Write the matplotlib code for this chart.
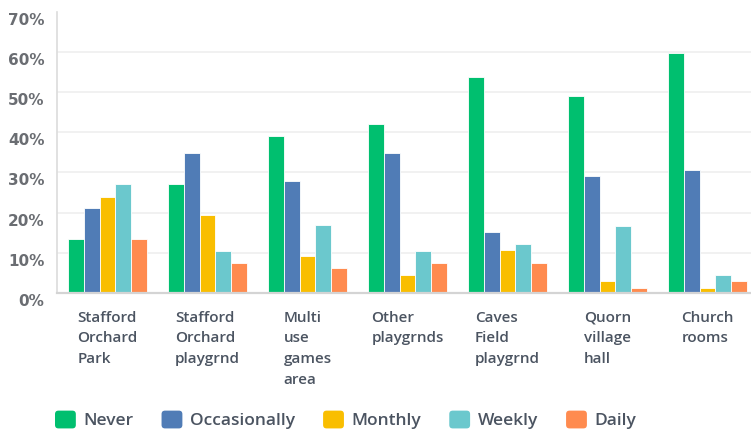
import matplotlib
matplotlib.use("Agg")
import matplotlib.pyplot as plt
import numpy as np
from matplotlib.patches import FancyBboxPatch
from matplotlib.legend_handler import HandlerPatch
from matplotlib.transforms import ScaledTranslation

# Survey: how often do you use each facility?
categories = [
    "Stafford\nOrchard\nPark",
    "Stafford\nOrchard\nplaygrnd",
    "Multi\nuse\ngames\narea",
    "Other\nplaygrnds",
    "Caves\nField\nplaygrnd",
    "Quorn\nvillage\nhall",
    "Church\nrooms",
]
series_names = ["Never", "Occasionally", "Monthly", "Weekly", "Daily"]
never = [13.4, 27.1, 39.0, 42.1, 53.7, 49.1, 59.7]
occasionally = [21.1, 34.8, 27.8, 34.8, 15.2, 29.2, 30.5]
monthly = [23.9, 19.4, 9.2, 4.3, 10.6, 2.9, 1.2]
weekly = [27.1, 10.3, 16.9, 10.3, 12.1, 16.6, 4.3]
daily = [13.4, 7.5, 6.1, 7.5, 7.5, 1.2, 2.9]
y_ticks = [0, 10, 20, 30, 40, 50, 60, 70]
y_tick_labels = ["0%", "10%", "20%", "30%", "40%", "50%", "60%", "70%"]

values = [never, occasionally, monthly, weekly, daily]
colors = ["#00BF6F", "#507CB6", "#F9BE00", "#6BC8CD", "#FF8B4F"]

label_color = "#4b5461"
tick_color = "#6a6d72"

fig = plt.figure(figsize=(7.51, 4.32), dpi=100)
ax = fig.add_axes([57 / 751, 139.3 / 432, 694 / 751, 280.7 / 432])

x = np.arange(len(categories))
bar_w = 0.158
for i, (name, vals, col) in enumerate(zip(series_names, values, colors)):
    ax.bar(x + (i - 2) * bar_w, vals, width=bar_w, color=col,
           edgecolor="white", linewidth=0.6, label=name, zorder=3)

ax.set_xlim(-0.505, 6.435)
ax.set_ylim(0, 70)

# horizontal grid (no line at the top edge)
for t in y_ticks[1:-1]:
    ax.axhline(t, color="#efefef", linewidth=1.2, zorder=1)

for side in ("top", "right"):
    ax.spines[side].set_visible(False)
ax.spines["left"].set_color("#dcdcdc")
ax.spines["left"].set_linewidth(1.2)
ax.spines["bottom"].set_color("#d4d4d4")
ax.spines["bottom"].set_linewidth(1.6)
ax.spines["bottom"].set_zorder(4)

ax.set_yticks(y_ticks)
ax.set_yticklabels(y_tick_labels, fontsize=11, fontweight="bold",
                   color=tick_color, family=["DejaVu Sans"])
ax.tick_params(axis="y", length=0, pad=9)
offset = ScaledTranslation(0, -0.07, fig.dpi_scale_trans)
for lab in ax.get_yticklabels():
    lab.set_transform(lab.get_transform() + offset)

ax.set_xticks(x)
ax.set_xticklabels(categories, fontsize=11, fontweight="semibold",
                   color=label_color, family=["Open Sans", "DejaVu Sans"],
                   linespacing=1.6, multialignment="left")
ax.tick_params(axis="x", length=0, pad=13)


class RoundedHandler(HandlerPatch):
    def create_artists(self, legend, orig_handle, xdescent, ydescent,
                       width, height, fontsize, trans):
        p = FancyBboxPatch((-xdescent, -ydescent), width, height,
                           boxstyle="round,pad=0,rounding_size=2.5",
                           facecolor=orig_handle.get_facecolor(),
                           edgecolor="none", transform=trans)
        return [p]


handles, labels = ax.get_legend_handles_labels()
leg = fig.legend(
    [h.patches[0] for h in handles], labels,
    loc="center left", bbox_to_anchor=(55 / 751, 1 - 420 / 432),
    ncol=5, frameon=False, borderpad=0, borderaxespad=0,
    handlelength=1.2, handleheight=1.2, handletextpad=0.45,
    columnspacing=1.6,
    prop={"family": ["Open Sans", "DejaVu Sans"], "weight": "semibold",
          "size": 12.5},
    handler_map={matplotlib.patches.Rectangle: RoundedHandler()},
)
for t in leg.get_texts():
    t.set_color(label_color)

fig.savefig("out.png", dpi=100)
